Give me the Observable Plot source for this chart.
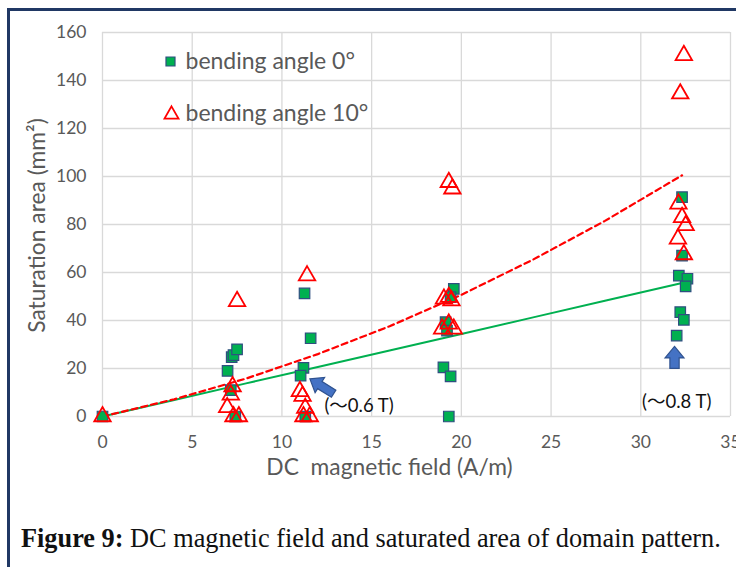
<!DOCTYPE html>
<html><head><meta charset="utf-8">
<script src="https://cdn.jsdelivr.net/npm/d3@7"></script>
<script src="https://cdn.jsdelivr.net/npm/@observablehq/plot@0.6"></script>
<style>
body{margin:0;background:#fff;width:736px;height:567px;overflow:hidden;position:relative;font-family:Lato,"Noto Sans CJK JP",sans-serif}
#frame{position:absolute;left:7px;top:8px;width:780px;height:620px;border:3px solid #203864;box-sizing:border-box}
#chart{position:absolute;left:0;top:0}
#caption{position:absolute;left:21px;top:526px;font-family:"Liberation Serif",serif;font-size:26.3px;line-height:1;color:#111;white-space:nowrap}
</style></head><body>
<div id="frame"></div>
<div id="chart"></div>
<div id="caption"><b>Figure 9:</b> DC magnetic field and saturated area of domain pattern.</div>
<script>
// ---- data ----
const series0Name = "bending angle 0°";
const series10Name = "bending angle 10°";
const xTitle = "DC\u00a0 magnetic field (A/m)";
const yTitle = "Saturation area (mm²)";
const field0 = [0, 6.97, 7.2, 7.3, 7.5, 7.15, 7.4, 11.26, 11.6, 11.2, 11.04, 11.3, 19.58, 19.4, 19.12, 19.2, 19.0, 19.4, 19.3, 32.3, 32.3, 32.12, 32.6, 32.5, 32.2, 32.4, 32.0];
const area0  = [0, 19, 24.7, 25.6, 28, 11, 0, 51.3, 32.6, 20.3, 17, 0, 53.2, 49.7, 39.3, 35.8, 20.5, 16.7, 0, 91.4, 67, 58.7, 57.4, 54.2, 43.5, 40.3, 33.7];
const field10 = [0, 7.5, 7.25, 7.15, 6.95, 7.3, 7.6, 11.4, 11.0, 11.15, 11.3, 11.2, 11.55, 19.3, 19.5, 19.03, 19.3, 19.45, 18.93, 19.3, 19.58, 32.4, 32.2, 32.1, 32.3, 32.5, 32.07, 32.4];
const area10  = [0, 48, 12.5, 9, 3.8, 0, 0, 58.7, 10.5, 8.5, 3.5, 0, 0, 97.6, 94.9, 49, 49.7, 48.3, 36.5, 38.6, 36.5, 150.5, 134.5, 88.6, 83, 79.6, 74, 67.5];
// trend lines
const trendField = [0, 4, 8, 12, 16, 20, 24, 28, 32.3];
const trend0  = [0, 6.9, 13.8, 20.6, 27.5, 34.4, 41.3, 48.2, 55.6];
const trend10 = [0, 7.2, 15.8, 26.0, 37.6, 50.7, 65.4, 81.5, 100.5];
// annotations
const noteField = [14.3, 32.0];
const noteArea  = [4.4, 6.0];
const noteText  = ["(～0.6 T)", "(～0.8 T)"];
const arrowField = [12.22, 31.88];
const arrowArea  = [12.6, 24.6];
const arrowAngle = [-58, 0];
const xTicks = [0, 5, 10, 15, 20, 25, 30, 35];
const yTicks = [0, 20, 40, 60, 80, 100, 120, 140, 160];

const pts0 = field0.map((x, i) => ({x, y: area0[i]}));
const pts10 = field10.map((x, i) => ({x, y: area10[i]}));
const tr0 = trendField.map((x, i) => ({x, y: trend0[i]}));
const tr10 = trendField.map((x, i) => ({x, y: trend10[i]}));
const notes = noteText.map((t, i) => ({x: noteField[i], y: noteArea[i], t}));
const arrows = arrowField.map((x, i) => ({x, y: arrowArea[i], a: arrowAngle[i]}));

function blockArrow(headHalf, shaftHalf, headLen) {
  return {draw(ctx, size) {
    const L = Math.sqrt(size);
    const t = -L / 2, b = L / 2, hb = t + headLen * L;
    ctx.moveTo(0, t);
    ctx.lineTo(headHalf * L, hb);
    ctx.lineTo(shaftHalf * L, hb);
    ctx.lineTo(shaftHalf * L, b);
    ctx.lineTo(-shaftHalf * L, b);
    ctx.lineTo(-shaftHalf * L, hb);
    ctx.lineTo(-headHalf * L, hb);
    ctx.closePath();
  }};
}
const arrowA = blockArrow(0.32, 0.15, 0.42);
const arrowB = blockArrow(0.43, 0.21, 0.52);
const SP = Math.sqrt(Math.PI);

const chart = Plot.plot({
  width: 736, height: 480,
  marginTop: 32, marginBottom: 64, marginLeft: 102, marginRight: 6,
  style: {fontFamily: 'Lato, "Noto Sans CJK JP", sans-serif', fontSize: "17px", color: "#595959", background: "transparent", overflow: "visible"},
  x: {domain: [0, 35]},
  y: {domain: [0, 160]},
  marks: [
    Plot.gridX(xTicks, {stroke: "#d9d9d9", strokeOpacity: 1, strokeWidth: 1.3}),
    Plot.gridY(yTicks, {stroke: "#d9d9d9", strokeOpacity: 1, strokeWidth: 1.3}),
    Plot.axisX(xTicks, {tickSize: 0, tickPadding: 19, label: null, fontSize: 17.5}),
    Plot.axisY(yTicks, {tickSize: 0, tickPadding: 16, label: null, fontSize: 17.5}),
    Plot.text([xTitle], {frameAnchor: "bottom", dx: -27, dy: 51, lineAnchor: "middle", textAnchor: "middle", text: d => d, fontSize: 22.8, fill: "#595959"}),
    Plot.text([yTitle], {frameAnchor: "left", dx: -65, dy: 1, rotate: -90, lineAnchor: "middle", textAnchor: "middle", text: d => d, fontSize: 22.8, fill: "#595959"}),
    Plot.line(tr0, {x: "x", y: "y", stroke: "#00b050", strokeWidth: 2}),
    Plot.line(tr10, {x: "x", y: "y", stroke: "#ff0000", strokeWidth: 2.2, strokeDasharray: "6,4"}),
    Plot.dot(pts0, {x: "x", y: "y", symbol: "square", r: 10.5 / SP, fill: "#00b050", stroke: "#2f4f80", strokeWidth: 1.2}),
    Plot.dot(pts10, {x: "x", y: "y", symbol: "triangle", r: 6.1, fill: "none", stroke: "#ff0000", strokeWidth: 1.8}),
    Plot.dot([arrows[0]], {x: "x", y: "y", rotate: "a", symbol: arrowA, r: 28 / SP, fill: "#4472c4", stroke: "#2f528f", strokeWidth: 1.2}),
    Plot.dot([arrows[1]], {x: "x", y: "y", rotate: "a", symbol: arrowB, r: 22 / SP, fill: "#4472c4", stroke: "#2f528f", strokeWidth: 1.2}),
    Plot.text(notes, {x: "x", y: "y", text: "t", fontSize: 18.5, fill: "#111"}),
    // legend
    Plot.dot([series0Name], {frameAnchor: "top-left", dx: 68, dy: 29, symbol: "square", r: 9 / SP, fill: "#00b050", stroke: "#2f4f80", strokeWidth: 1.2}),
    Plot.dot([series10Name], {frameAnchor: "top-left", dx: 69, dy: 82, symbol: "triangle", r: 5.2, fill: "none", stroke: "#ff0000", strokeWidth: 1.8}),
    Plot.text([series0Name], {frameAnchor: "top-left", dx: 83, dy: 29, lineAnchor: "middle", text: d => d, textAnchor: "start", fontSize: 23, fill: "#595959"}),
    Plot.text([series10Name], {frameAnchor: "top-left", dx: 83, dy: 81, lineAnchor: "middle", text: d => d, textAnchor: "start", fontSize: 23, fill: "#595959"})
  ]
});
document.getElementById("chart").appendChild(chart);
</script>
</body></html>
